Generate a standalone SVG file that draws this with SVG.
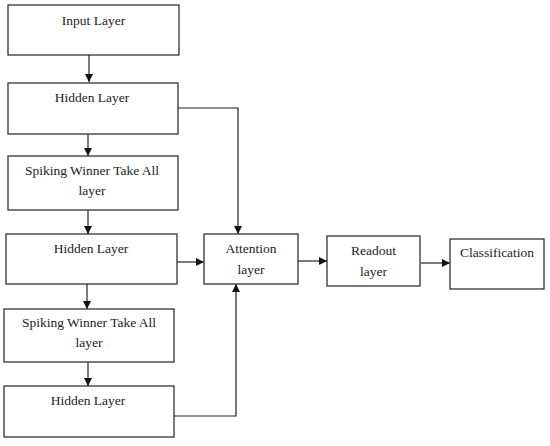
<svg xmlns="http://www.w3.org/2000/svg" width="550" height="446" viewBox="0 0 550 446">
<style>
.box{fill:#fff;stroke:#333;stroke-width:1.3}
.t{font-family:'Liberation Serif','Times New Roman','DejaVu Serif',serif;font-size:13.5px;fill:#222;text-anchor:middle}
.c{fill:none;stroke:#222;stroke-width:1.2}
</style>
<defs>
<marker id="ah" viewBox="0 0 10 10" refX="10" refY="5" markerWidth="8" markerHeight="8" markerUnits="userSpaceOnUse" orient="auto">
<path d="M0,0 L10,5 L0,10 z" fill="#111"/>
</marker>
</defs>
<rect width="550" height="446" fill="#fff"/>
<g id="connectors">
<path class="c" d="M89,55 V82" marker-end="url(#ah)"/>
<path class="c" d="M88,134 V156" marker-end="url(#ah)"/>
<path class="c" d="M88,210 V234" marker-end="url(#ah)"/>
<path class="c" d="M87,284 V309" marker-end="url(#ah)"/>
<path class="c" d="M88,362 V386" marker-end="url(#ah)"/>
<path class="c" d="M178,108 H238 V234" marker-end="url(#ah)"/>
<path class="c" d="M177,262 H204" marker-end="url(#ah)"/>
<path class="c" d="M174,416 H236 V284" marker-end="url(#ah)"/>
<path class="c" d="M298,261 H327" marker-end="url(#ah)"/>
<path class="c" d="M421,263 H450" marker-end="url(#ah)"/>
</g>
<g id="input">
<rect class="box" x="8" y="5" width="171" height="50"/>
<text class="t" x="93.5" y="25">Input Layer</text>
</g>
<g id="hidden1">
<rect class="box" x="8" y="83" width="170" height="51"/>
<text class="t" x="92" y="102">Hidden Layer</text>
</g>
<g id="swta1">
<rect class="box" x="8" y="156" width="170" height="54"/>
<text class="t" x="92" y="175">Spiking Winner Take All</text>
<text class="t" x="92" y="195">layer</text>
</g>
<g id="hidden2">
<rect class="box" x="6" y="234" width="171" height="50"/>
<text class="t" x="91" y="253">Hidden Layer</text>
</g>
<g id="swta2">
<rect class="box" x="4" y="309" width="170" height="53"/>
<text class="t" x="89" y="327">Spiking Winner Take All</text>
<text class="t" x="89" y="347">layer</text>
</g>
<g id="hidden3">
<rect class="box" x="4" y="386" width="170" height="51"/>
<text class="t" x="88" y="405">Hidden Layer</text>
</g>
<g id="attention">
<rect class="box" x="204" y="234" width="94" height="50"/>
<text class="t" x="251" y="253">Attention</text>
<text class="t" x="251" y="274">layer</text>
</g>
<g id="readout">
<rect class="box" x="327" y="236" width="93" height="50"/>
<text class="t" x="373.5" y="255">Readout</text>
<text class="t" x="373.5" y="276">layer</text>
</g>
<g id="classification">
<rect class="box" x="450" y="239" width="94" height="50"/>
<text class="t" x="497" y="257">Classification</text>
</g>
</svg>
